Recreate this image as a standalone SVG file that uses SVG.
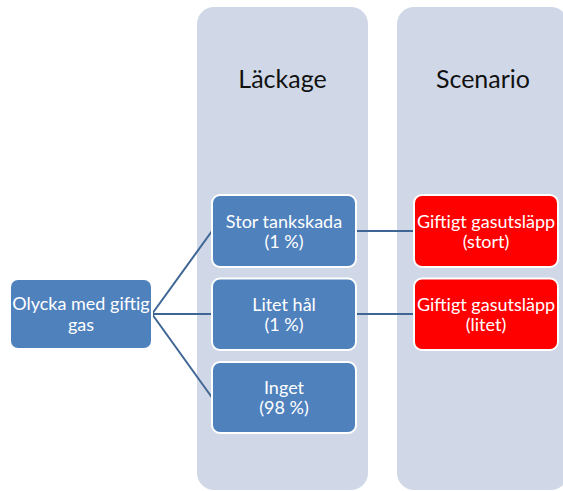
<svg xmlns="http://www.w3.org/2000/svg" width="563" height="491" viewBox="0 0 563 491">
  <style>
    .lane { fill: #D0D8E8; }
    .lane-title { font-family: Lato, "Open Sans", sans-serif; font-size: 25px; fill: #111111; text-anchor: middle; }
    .box { fill: #4F81BD; stroke: #FFFFFF; stroke-width: 2; }
    .box-red { fill: #FF0000; stroke: #FFFFFF; stroke-width: 2; }
    .label { font-family: Lato, "Open Sans", sans-serif; font-size: 18px; fill: #FFFFFF; text-anchor: middle; }
    .link { fill: none; stroke: #3E6594; stroke-width: 2; }
  </style>
  <rect width="563" height="491" fill="#FFFFFF"/>

  <!-- swimlanes -->
  <g id="lane-lackage">
    <rect class="lane" x="197" y="7" width="171" height="483" rx="17"/>
    <text class="lane-title" x="282.5" y="88">Läckage</text>
  </g>
  <g id="lane-scenario">
    <rect class="lane" x="397" y="7" width="171" height="483" rx="17"/>
    <text class="lane-title" x="483" y="88">Scenario</text>
  </g>

  <!-- connectors -->
  <g id="connectors">
    <path class="link" d="M152 314 L212 231"/>
    <path class="link" d="M152 314 L212 314"/>
    <path class="link" d="M152 314 L212 397.5"/>
    <path class="link" d="M356 231 L414 231"/>
    <path class="link" d="M356 314 L414 314"/>
  </g>

  <!-- nodes -->
  <g id="olycka">
    <rect class="box" x="10" y="279" width="142" height="70" rx="8"/>
    <text class="label" x="81" y="310">Olycka med giftig</text>
    <text class="label" x="81" y="331">gas</text>
  </g>
  <g id="stor-tankskada">
    <rect class="box" x="212" y="195" width="144" height="72" rx="8"/>
    <text class="label" x="284" y="227.5">Stor tankskada</text>
    <text class="label" x="284" y="248">(1 %)</text>
  </g>
  <g id="litet-hal">
    <rect class="box" x="212" y="278.5" width="144" height="71.5" rx="8"/>
    <text class="label" x="284" y="310.5">Litet hål</text>
    <text class="label" x="284" y="331">(1 %)</text>
  </g>
  <g id="inget">
    <rect class="box" x="212" y="362" width="144" height="71" rx="8"/>
    <text class="label" x="284" y="393.5">Inget</text>
    <text class="label" x="284" y="414">(98 %)</text>
  </g>
  <g id="utslapp-stort">
    <rect class="box-red" x="414" y="195" width="144" height="72" rx="8"/>
    <text class="label" x="486" y="227.5">Giftigt gasutsläpp</text>
    <text class="label" x="486" y="248">(stort)</text>
  </g>
  <g id="utslapp-litet">
    <rect class="box-red" x="414" y="278.5" width="144" height="71.5" rx="8"/>
    <text class="label" x="486" y="310.5">Giftigt gasutsläpp</text>
    <text class="label" x="486" y="331">(litet)</text>
  </g>
</svg>
